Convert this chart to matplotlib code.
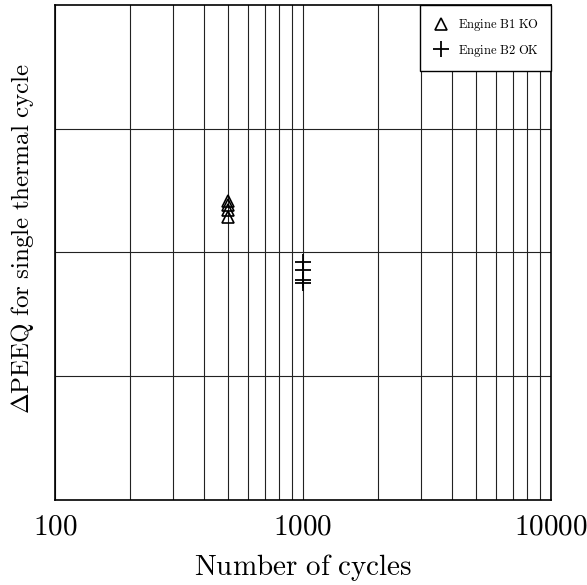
import matplotlib
matplotlib.use("Agg")
import matplotlib.pyplot as plt
from matplotlib.ticker import FixedLocator, FixedFormatter, NullFormatter

plt.rcParams["mathtext.fontset"] = "cm"
plt.rcParams["font.family"] = "serif"
plt.rcParams["font.serif"] = ["DejaVu Serif"]

# Engine B1 (failed): cycles to failure and PEEQ increment per cycle
b1_cycles = [500, 500, 500, 500]
b1_dpeeq = [2.42, 2.38, 2.34, 2.29]

# Engine B2 (survived)
b2_cycles = [1000, 1000, 1000, 1000]
b2_dpeeq = [1.92, 1.86, 1.78, 1.75]

x_ticks = [100, 1000, 10000]
x_tick_labels = ["100", "1000", "10000"]
y_grid = [1, 2, 3]

fig = plt.figure(figsize=(5.87, 5.85), dpi=100)
ax = fig.add_axes([0.0937, 0.1453, 0.8450, 0.8462])

ax.set_xscale("log")
ax.set_xlim(100, 10000)
ax.set_ylim(0, 4)

ax.plot(b1_cycles, b1_dpeeq, linestyle="none", marker="^", markersize=8,
        markerfacecolor="none", markeredgecolor="black", markeredgewidth=1.2,
        label=r"$\mathrm{Engine\ B1\ KO}$")
ax.plot(b2_cycles, b2_dpeeq, linestyle="none", marker="+", markersize=11,
        markeredgecolor="black", markeredgewidth=1.3,
        label=r"$\mathrm{Engine\ B2\ OK}$")

ax.xaxis.set_major_locator(FixedLocator(x_ticks))
ax.xaxis.set_major_formatter(FixedFormatter([r"$\mathrm{%s}$" % t for t in x_tick_labels]))
ax.xaxis.set_minor_formatter(NullFormatter())
ax.yaxis.set_major_locator(FixedLocator(y_grid))
ax.yaxis.set_major_formatter(NullFormatter())

ax.grid(True, which="both", axis="x", color="#222222", linewidth=0.8)
ax.grid(True, which="major", axis="y", color="#222222", linewidth=0.8)
ax.tick_params(which="both", length=0, labelsize=21, pad=9)

for s in ax.spines.values():
    s.set_linewidth(1.2)
    s.set_color("black")

ax.set_xlabel(r"$\mathrm{Number\ of\ cycles}$", fontsize=21, labelpad=8)
ax.set_ylabel(r"$\Delta\mathrm{PEEQ\ for\ single\ thermal\ cycle}$", fontsize=18)
ax.yaxis.set_label_coords(-0.038, 0.529)

leg = ax.legend(loc="upper right", fontsize=9, frameon=True, fancybox=False,
                edgecolor="black", framealpha=1, borderaxespad=0,
                handletextpad=0.6, handlelength=1.4, borderpad=1.0, labelspacing=0.75)
leg.get_frame().set_linewidth(1.0)

fig.savefig("out.png", dpi=100)
